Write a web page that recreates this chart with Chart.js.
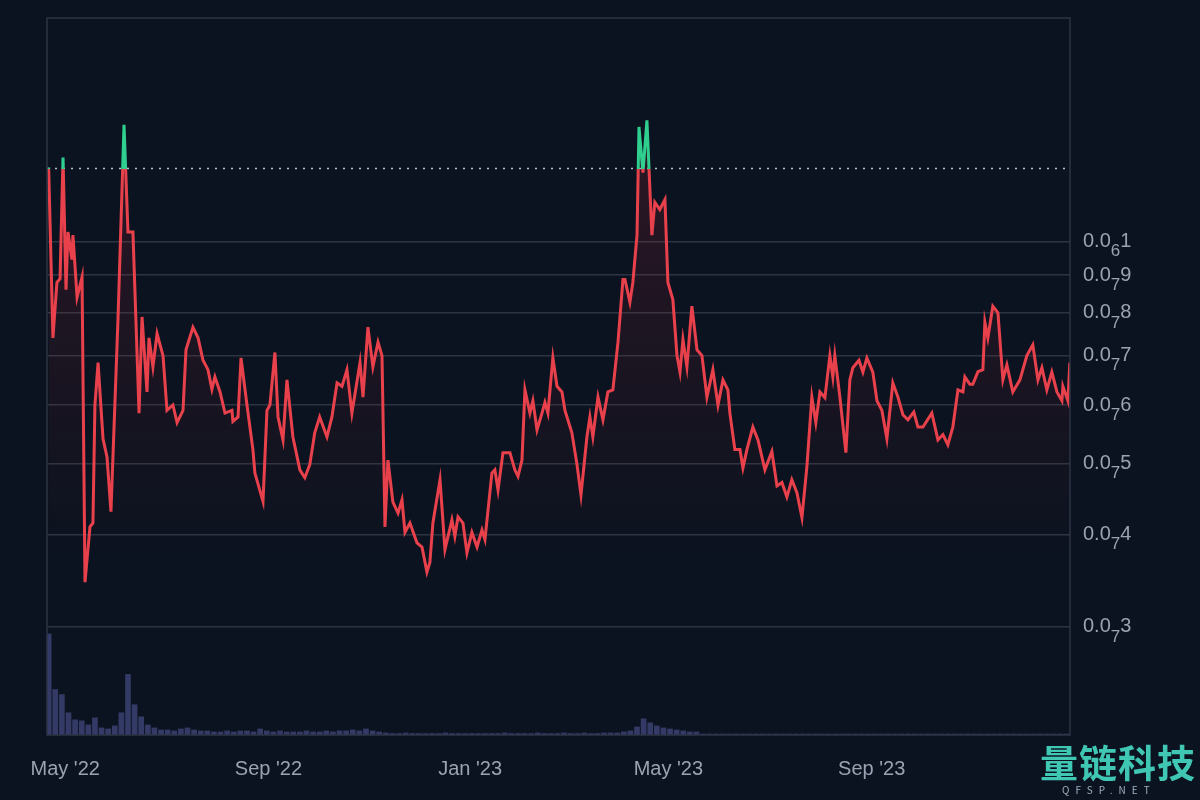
<!DOCTYPE html>
<html>
<head>
<meta charset="utf-8">
<script src="https://cdn.jsdelivr.net/npm/chart.js@4.4.1/dist/chart.umd.min.js"></script>
<style>
  html, body { margin: 0; padding: 0; background: #0c1320; }
  #wrap { position: relative; width: 1200px; height: 800px; }
  #mark { position: absolute; left: 1040px; top: 740px; color: #3fc7b4; font-family: "Noto Sans CJK SC", sans-serif; }
  #mark .big { font-size: 38px; font-weight: bold; line-height: 42px; letter-spacing: 1px; }
  #mark .small { font-size: 10px; letter-spacing: 6px; color: #9fb0c0; padding-left: 22px; }
</style>
</head>
<body>
<div id="wrap">
  <canvas id="priceChart" width="1200" height="800"></canvas>
  <div id="mark"><div class="big">量链科技</div><div class="small">QFSP.NET</div></div>
</div>
<script>
// price in units of 1e-7, day offset from 20 Apr 2022
var priceDays = [1,3.6,6,7.9,9.7,11.5,12.7,15.1,15.7,18.2,21.2,23,26,27.8,29,30.9,33.9,36.3,38.7,43,46.6,49,52,55.7,57.5,60.5,61.7,64.1,66.6,70.2,72.6,76.2,78.7,82.3,84.1,88.3,91.4,94.4,97.4,99.8,101.6,104.7,107.7,111.9,112.5,115.6,117.4,121,124.6,125.8,130.7,133.1,134.9,137.9,139.8,142.8,145.2,148.8,153,156,159,162,165,169.4,172.4,175.5,178.5,181.5,184.5,189.4,191.2,194.2,197.2,200.3,202.7,204.5,206.3,209.3,212.4,
  214.8,216.6,219.6,223.9,226.9,229.9,231.7,233.5,237.8,240.8,245,246.8,248.7,251.7,254.1,257.1,260.2,263.2,265,269.2,271,272.9,275.9,280.1,283.1,285,287.4,289.2,292.2,294,296.5,299.5,301.3,303.1,306.1,308.6,311.6,313.4,317.6,320.7,323.1,326.7,328.5,330.3,333.4,336.4,339.4,342.4,345.5,348.5,349.7,352.7,354.5,357,358.2,360.6,363,366,367.8,370.8,373.9,375.7,378.7,381.2,383,384.8,387.2,390.2,393.3,396.3,399.3,
  402.9,406,409,412,413.2,416.2,419.3,421.1,423.5,427.1,430.2,434.4,438.6,441.7,444.7,447.7,450.7,453.8,456.8,459.8,462.8,465.2,467.7,470.7,473.7,475.5,476.7,479.8,483.4,485.8,487.6,491.3,493.7,496.1,499.7,502.2,505.2,508.2,511.8,514.9,517.9,520.9,524.5,527,530,535.4,539.1,542.1,545.1,548.1,551.2,554.2,555.4,558.4,560.2,563.3,566.3,567.5,569.3,572.3,575.4,578.4,580.8,584.4,588.7,592.9,596.5,599.6,602,605,608,611.1,614.1,614.7,617.7,618.9];
var priceValues = [12.6,7.4,8.8,8.9,13.0,8.6,10.3,9.45,10.2,8.4,8.95,3.45,4.1,4.15,6.0,6.85,5.4,5.1,4.3,7.9,14.4,10.3,10.3,5.85,7.9,6.25,7.4,6.76,7.5,7.0,5.9,6.0,5.68,5.9,7.13,7.65,7.4,6.9,6.7,6.3,6.55,6.25,5.85,5.9,5.7,5.78,6.95,6.0,5.22,4.85,4.44,5.9,6.0,7.07,5.78,5.38,6.49,5.43,4.9,4.78,4.98,5.5,5.78,5.43,5.78,6.43,6.36,6.7,5.85,6.85,6.15,7.65,6.76,7.3,7.0,4.1,5.05,4.43,4.28,
  4.46,4.03,4.15,3.9,3.85,3.56,3.67,4.15,4.75,3.82,4.19,3.98,4.23,4.15,3.78,4.03,3.85,4.06,3.94,4.85,4.9,4.6,5.17,5.17,4.9,4.8,5.05,6.29,5.85,6.08,5.55,5.85,6.05,5.85,6.95,6.36,6.25,5.9,5.5,4.98,4.53,5.43,5.78,5.43,6.15,5.73,6.25,6.29,7.3,8.88,8.88,8.27,8.8,10.2,14.3,12.4,14.6,10.2,11.3,11.05,11.4,8.8,8.34,7.0,6.65,7.36,6.76,8.17,7.13,7.0,6.15,
  6.7,6.0,6.49,6.29,5.85,5.22,5.22,4.93,5.22,5.6,5.38,4.9,5.19,4.66,4.71,4.5,4.75,4.56,4.22,4.95,6.15,5.68,6.25,6.14,7.0,6.55,7.0,6.14,5.17,6.49,6.74,6.9,6.65,6.95,6.65,6.08,5.9,5.4,6.43,6.15,5.82,5.73,5.87,5.6,5.6,5.85,5.38,5.47,5.3,5.6,6.29,6.25,6.55,6.4,6.4,6.66,6.7,7.77,7.4,8.17,8.0,6.49,6.8,6.25,6.49,7.0,7.24,6.49,6.74,6.29,6.65,6.25,6.08,6.36,6.08,6.85];

// volume every 4 days starting at day 0 (relative units)
var volumeStep = 4;
var volumeValues = [100,45,40,22,15,14,10,17,7,6,9,22,60,30,18,10,7,5,5,4,6,7,5,4,4,3,3,4,3,4,4,3,6,4,3,4,3,3,3,4,3,3,4,3,4,4,5,4,6,4,3,2,
  1.5,1.5,2,1.5,1.5,1.5,1.5,1.5,2,1.5,1.5,1.5,1.5,1.5,1.5,1.5,1.5,2,1.5,1.5,1.5,1.5,2,1.5,1.5,1.5,2,1.5,1.5,2,1.5,1.5,2,2,2,3,
  4,8,16,12,9,7,6,5,4,3,3,
  1,1,1,1,1,1,1,1,1,1,1,1,1,1,1,1,1,1,1,1,1,1,1,1,1,1,1,1,1,1,1,1,1,1,1,1,1,1,1,1,1,1,1,1,1,1,1,1,1,1,1,1,1,1,1,1];

var baseline = 12.56;
var yTicks = [3, 4, 5, 6, 7, 8, 9, 10];
var yTickZeros = ['7', '7', '7', '7', '7', '7', '7', '6'];
var yTickDigits = ['3', '4', '5', '6', '7', '8', '9', '1'];
var xTicks = [11, 134, 256, 376, 499];
var xTickLabels = ["May '22", "Sep '22", "Jan '23", "May '23", "Sep '23"];
var lastDay = 619;

var pricePoints = priceDays.map(function (d, i) { return { x: d, y: priceValues[i] }; });
var volumePoints = volumeValues.map(function (v, i) { return { x: i * volumeStep + 1, y: v }; });

function lineColor(ctx) {
  var chart = ctx.chart;
  var area = chart.chartArea;
  if (!area) return '#e8414b';
  var yb = chart.scales.y.getPixelForValue(baseline);
  var stop = Math.min(Math.max((yb - area.top) / (area.bottom - area.top), 0), 1);
  var g = chart.ctx.createLinearGradient(0, area.top, 0, area.bottom);
  g.addColorStop(0, '#2fcf8f');
  g.addColorStop(stop, '#2fcf8f');
  g.addColorStop(stop, '#e8414b');
  g.addColorStop(1, '#e8414b');
  return g;
}

function fillColor(ctx) {
  var area = ctx.chart.chartArea;
  if (!area) return 'rgba(0,0,0,0)';
  var g = ctx.chart.ctx.createLinearGradient(0, area.top + 150, 0, area.top + 540);
  g.addColorStop(0, 'rgba(200,40,55,0.16)');
  g.addColorStop(1, 'rgba(200,40,55,0)');
  return g;
}

// frame + y labels with subscript zero count
var frame = {
  id: 'frame',
  afterDraw: function (chart) {
    var a = chart.chartArea, c = chart.ctx;
    c.save();
    c.strokeStyle = '#2c3544';
    c.lineWidth = 1.5;
    c.strokeRect(a.left, a.top, a.right - a.left, a.bottom - a.top);
    c.fillStyle = '#9aa3b2';
    c.textBaseline = 'middle';
    yTicks.forEach(function (v, i) {
      var y = chart.scales.y.getPixelForValue(v);
      var x = a.right + 13;
      c.font = '20px "Liberation Sans"';
      c.fillText('0.0', x, y);
      x += c.measureText('0.0').width;
      c.font = '17px "Liberation Sans"';
      c.fillText(yTickZeros[i], x, y + 10);
      x += c.measureText(yTickZeros[i]).width;
      c.font = '20px "Liberation Sans"';
      c.fillText(yTickDigits[i], x, y);
    });
    c.restore();
  }
};

new Chart(document.getElementById('priceChart').getContext('2d'), {
  data: {
    datasets: [{
      type: 'line',
      data: pricePoints,
      yAxisID: 'y',
      borderColor: lineColor,
      backgroundColor: fillColor,
      fill: 'origin',
      borderWidth: 3,
      pointRadius: 0,
      tension: 0,
      order: 1
    }, {
      type: 'line',
      data: [{ x: 0, y: baseline }, { x: lastDay, y: baseline }],
      yAxisID: 'y',
      borderColor: '#b9c0ca',
      borderWidth: 1.5,
      borderDash: [2, 6],
      pointRadius: 0,
      fill: false,
      order: 2
    }, {
      type: 'bar',
      data: volumePoints,
      yAxisID: 'vol',
      backgroundColor: '#343a66',
      barThickness: 5,
      order: 3
    }]
  },
  options: {
    responsive: false,
    animation: false,
    layout: { padding: { left: 47, top: 18, right: 0, bottom: 0 } },
    plugins: { legend: { display: false }, tooltip: { enabled: false } },
    scales: {
      x: {
        type: 'linear',
        offset: false,
        min: 0,
        max: lastDay,
        afterBuildTicks: function (s) { s.ticks = xTicks.map(function (v) { return { value: v }; }); },
        afterFit: function (s) { s.height = 65; },
        ticks: {
          autoSkip: false,
          maxRotation: 0,
          color: '#9aa3b2',
          font: { family: 'Liberation Sans', size: 20 },
          padding: 14,
          callback: function (v) { return xTickLabels[xTicks.indexOf(v)]; }
        },
        grid: { display: false, offset: false },
        border: { display: false }
      },
      y: {
        type: 'logarithmic',
        position: 'right',
        min: 2.14,
        max: 20.1,
        afterBuildTicks: function (s) { s.ticks = yTicks.map(function (v) { return { value: v }; }); },
        afterFit: function (s) { s.width = 130; },
        ticks: { display: false },
        grid: { color: '#2c3442', lineWidth: 1.5, drawTicks: false },
        border: { display: false }
      },
      vol: {
        type: 'linear',
        display: false,
        min: 0,
        max: 710
      }
    }
  },
  plugins: [frame]
});
</script>
</body>
</html>
